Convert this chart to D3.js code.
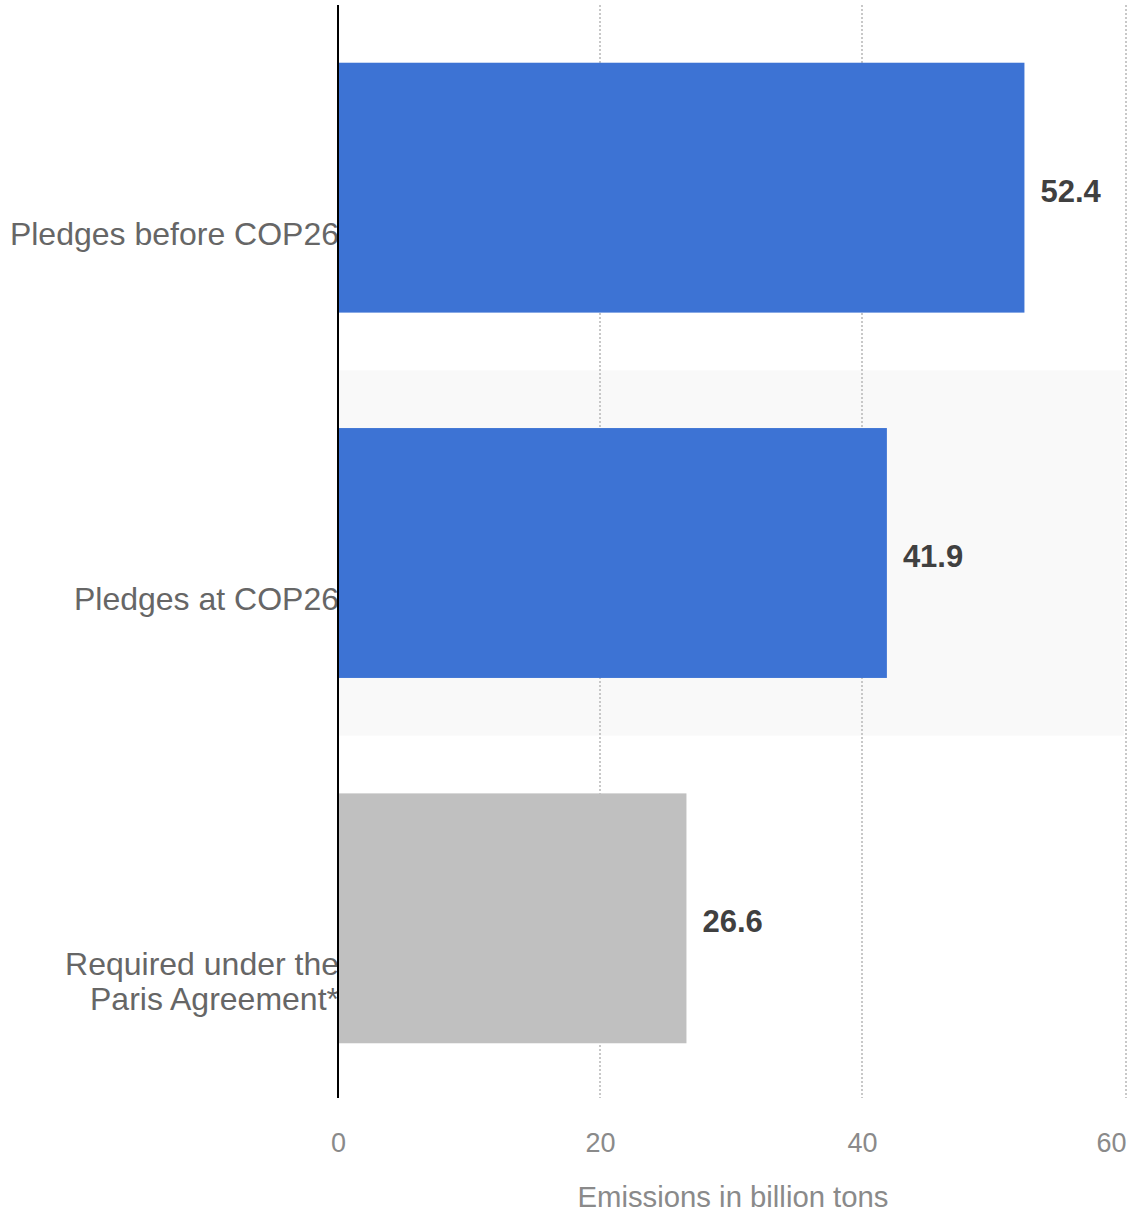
<!DOCTYPE html>
<html>
<head>
<meta charset="utf-8">
<script src="https://cdn.jsdelivr.net/npm/d3@7"></script>
<style>
  html, body { margin: 0; padding: 0; background: #fff; }
  svg { display: block; font-family: "Liberation Sans", Arial, Helvetica, sans-serif; }
</style>
</head>
<body>
<svg id="chart" width="1132" height="1213"></svg>
<script>
// Global emissions in 2030 under different scenarios
const categories = ["Pledges before COP26", "Pledges at COP26", "Required under the Paris Agreement*"];
const categoryLines = [["Pledges before COP26"], ["Pledges at COP26"], ["Required under the", "Paris Agreement*"]];
const values = [52.4, 41.9, 26.6];
const barColors = ["#3d73d4", "#3d73d4", "#c0c0c0"];
const xTicks = [0, 20, 40, 60];
const xTitle = "Emissions in billion tons";

const svg = d3.select("#chart");
const plotLeft = 338, plotRight = 1124, plotTop = 5, plotBottom = 1101;

const x = d3.scaleLinear().domain([0, 60]).range([plotLeft, plotRight]);
const rows = d3.scaleBand().domain(categories).range([plotTop, plotBottom]).padding(0);
const y = d3.scaleBand().domain(categories).range([plotTop, plotBottom])
  .paddingInner(0.316).paddingOuter(0.158);

// alternating row shading
svg.append("g").selectAll("rect")
  .data(categories.filter((d, i) => i % 2 === 1))
  .join("rect")
  .attr("x", plotLeft).attr("width", x(60) - plotLeft)
  .attr("y", d => rows(d)).attr("height", rows.bandwidth())
  .attr("fill", "#f9f9f9");

// vertical dotted gridlines
svg.append("g").selectAll("line")
  .data(xTicks.filter(t => t > 0))
  .join("line")
  .attr("x1", d => x(d) + (d === 60 ? 2 : 0)).attr("x2", d => x(d) + (d === 60 ? 2 : 0))
  .attr("y1", plotTop).attr("y2", plotBottom - 3)
  .attr("stroke", "#c8c8c8").attr("stroke-width", 2)
  .attr("stroke-dasharray", "2,2");

// bars
svg.append("g").selectAll("rect")
  .data(values)
  .join("rect")
  .attr("x", x(0))
  .attr("y", (d, i) => y(categories[i]))
  .attr("width", d => x(d) - x(0))
  .attr("height", y.bandwidth())
  .attr("fill", (d, i) => barColors[i]);

// value labels
svg.append("g").selectAll("text")
  .data(values)
  .join("text")
  .attr("x", d => x(d) + 16)
  .attr("y", (d, i) => y(categories[i]) + y.bandwidth() / 2 + 14)
  .attr("font-size", 31).attr("font-weight", "bold")
  .attr("fill", "#404040")
  .text(d => d.toFixed(1));

// category labels
const cat = svg.append("g").selectAll("text")
  .data(categories)
  .join("text")
  .attr("text-anchor", "end")
  .attr("font-size", 32)
  .attr("fill", "#666")
  .attr("y", d => rows(d) + rows.bandwidth() / 2 + 57);
cat.each(function(d, i) {
  const t = d3.select(this);
  categoryLines[i].forEach((line, j) => {
    t.append("tspan").attr("x", plotLeft + 1).attr("dy", j === 0 ? 0 : 35).text(line);
  });
});

// y axis line
svg.append("line")
  .attr("x1", plotLeft).attr("x2", plotLeft)
  .attr("y1", plotTop).attr("y2", plotBottom - 3)
  .attr("stroke", "#000").attr("stroke-width", 2);

// x axis tick labels
const xAxis = d3.axisBottom(x).tickValues(xTicks).tickSize(0).tickPadding(0);
const gx = svg.append("g").attr("transform", `translate(0,${1152})`).call(xAxis);
gx.select(".domain").remove();
gx.selectAll("text")
  .attr("dy", 0).attr("y", 0)
  .attr("font-size", 27).attr("font-family", "Liberation Sans, Arial, sans-serif")
  .attr("fill", "#8a8a8a");
gx.selectAll(".tick").filter(d => d === 60).select("text").attr("dx", -13);

// x axis title
svg.append("text")
  .attr("x", (plotLeft + plotRight) / 2 + 2)
  .attr("y", 1207)
  .attr("text-anchor", "middle")
  .attr("font-size", 29.3)
  .attr("fill", "#8a8a8a")
  .text(xTitle);
</script>
</body>
</html>
